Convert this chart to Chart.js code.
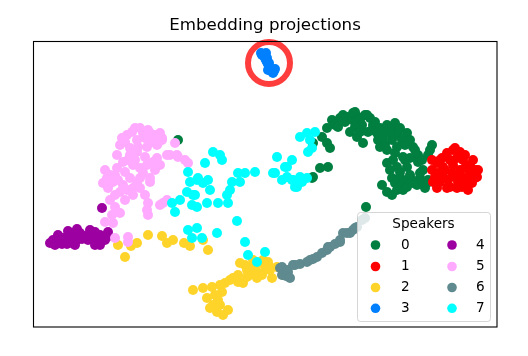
<!DOCTYPE html>
<html><head><meta charset="utf-8">
<script src="https://cdn.jsdelivr.net/npm/chart.js@4/dist/chart.umd.min.js"></script>
<style>html,body{margin:0;padding:0;background:#fff}#wrap{width:528px;height:356px}</style>
</head><body><div id="wrap"><canvas id="c" width="528" height="356"></canvas></div>
<script>
const chartTitle = 'Embedding projections';
const legendTitle = 'Speakers';
const speakers = ['0','1','2','3','4','5','6','7'];
const colors = ['#007f40','#ff0000','#ffd42a','#0080ff','#9c00a0','#ffaaff','#5f8a8f','#00ffff'];

const speaker0 = [[178,140],[312,178],[320,168],[328,167],[313,177],[313,143],[322,137],[327,143],[330,148],[327,128],[332,120],[335,125],[338,127],[340,118],[343,115],[345,122],[348,117],[352,120],[353,113],[358,117],[355,112],[360,120],[365,115],[370,118],[367,115],[362,125],[355,127],[350,132],[357,137],[360,132],[363,143],[368,132],[372,130],[373,125],[375,122],[377,133],[378,140],[380,128],[385,130],[387,125],[392,128],[395,123],[398,135],[400,128],[390,133],[383,138],[380,147],[385,145],[387,150],[392,140],[397,147],[402,140],[405,145],[407,133],[410,140],[413,147],[415,150],[403,157],[405,160],[395,153],[393,160],[387,163],[390,170],[397,167],[400,172],[407,167],[410,175],[392,178],[400,177],[407,180],[395,183],[382,185],[387,192],[392,195],[397,190],[402,185],[403,190],[413,183],[417,185],[420,178],[425,188],[427,183],[428,155],[432,145],[430,150],[418,155],[410,158],[418,162],[422,160],[423,170],[420,173],[415,182],[423,182],[428,180],[407,187],[412,180],[366,207]];
const speaker1 = [[432,160],[437,163],[440,160],[447,153],[450,160],[453,150],[455,148],[457,158],[460,152],[465,155],[463,160],[473,160],[470,165],[475,170],[478,170],[477,177],[475,178],[468,178],[467,183],[472,183],[468,190],[462,187],[457,188],[450,187],[447,188],[437,188],[433,182],[440,182],[435,177],[443,177],[452,173],[455,177],[460,170],[443,167],[445,170],[453,165],[462,177],[470,173],[438,173],[448,180],[432,170],[442,158],[465,168],[458,182]];
const speaker2 = [[104,236],[118,245],[125,257],[131,246],[137,243],[148,235],[162,236],[167,243],[173,240],[184,243],[190,246],[203,240],[208,250],[193,290],[203,288],[212,287],[220,285],[225,283],[215,295],[222,292],[207,298],[218,300],[213,305],[220,305],[210,308],[217,312],[228,310],[223,315],[230,280],[233,278],[238,275],[240,263],[245,265],[247,270],[250,267],[253,260],[255,270],[260,263],[263,260],[268,262],[262,275],[265,270],[257,278],[243,283],[238,282],[250,275],[258,273],[247,277],[270,267],[277,267],[270,270],[272,278],[283,275]];
const speaker3 = [[261,53],[262,55],[263,54],[266,53],[264,56],[265,58],[267,58],[266,60],[267,62],[268,64],[269,63],[269,66],[270,68],[268,70],[272,70],[271,71],[273,73],[274,71],[275,69]];
const speaker4 = [[50,243],[53,240],[55,245],[57,238],[58,235],[60,241],[62,244],[63,238],[66,240],[67,244],[68,231],[70,236],[72,243],[73,233],[75,245],[77,229],[77,240],[80,233],[82,239],[85,236],[88,240],[90,230],[92,234],[95,232],[95,245],[97,240],[100,235],[100,245],[105,240],[107,237],[108,232],[102,208]];
const speaker5 = [[120,145],[122,138],[125,142],[127,135],[132,132],[135,128],[140,128],[143,133],[148,130],[150,133],[155,135],[160,133],[162,138],[137,140],[145,138],[147,147],[152,142],[158,143],[130,148],[138,147],[162,140],[157,145],[175,143],[117,155],[105,170],[103,183],[108,188],[110,175],[107,178],[115,175],[117,168],[118,180],[123,162],[125,172],[128,160],[130,155],[137,152],[135,160],[133,165],[140,168],[143,173],[145,157],[147,165],[153,162],[155,170],[160,165],[157,158],[113,182],[123,185],[127,190],[130,178],[133,188],[137,183],[140,178],[150,178],[115,195],[120,192],[125,200],[133,195],[140,188],[145,195],[150,182],[167,155],[170,155],[177,155],[178,157],[185,160],[188,163],[110,200],[115,207],[112,215],[120,213],[105,222],[113,223],[115,238],[128,237],[128,242],[147,210],[148,215],[148,203],[160,205],[163,203],[167,200]];
const speaker6 = [[280,268],[282,267],[282,275],[286,276],[287,270],[288,272],[290,278],[293,265],[295,265],[300,264],[307,262],[310,260],[313,259],[317,257],[322,253],[327,250],[328,247],[330,247],[335,244],[340,242],[340,240],[343,233],[347,233],[350,233],[353,230],[355,228],[357,227],[362,220],[365,218]];
const speaker7 = [[213,152],[220,155],[222,160],[205,163],[188,172],[190,182],[197,180],[198,178],[203,183],[208,180],[210,190],[187,192],[193,195],[195,195],[180,200],[172,203],[192,205],[197,207],[207,203],[218,203],[228,203],[227,195],[230,190],[232,182],[238,173],[245,173],[240,182],[255,172],[175,212],[188,230],[197,228],[192,238],[202,238],[217,233],[237,221],[245,242],[248,255],[257,262],[265,252],[277,157],[292,160],[287,167],[285,167],[275,173],[273,173],[282,180],[287,177],[292,180],[293,180],[297,187],[295,187],[300,177],[302,182],[307,178],[300,137],[307,133],[308,152],[315,132],[310,140],[312,148]];
const highlight = [[269,63]];

const series = [speaker0,speaker1,speaker2,speaker3,speaker4,speaker5,speaker6,speaker7];
const toXY = arr => arr.map(p => ({x:p[0], y:p[1]}));

const datasets = series.map((s,i) => ({
  label: speakers[i],
  data: toXY(s),
  backgroundColor: colors[i],
  borderWidth: 0,
  pointRadius: 5,
  pointHoverRadius: 5,
  order: 8 - i,
  clip: false
}));
datasets.push({
  label: 'highlight',
  data: toXY(highlight),
  backgroundColor: 'rgba(0,0,0,0)',
  borderColor: 'rgba(255,0,0,0.76)',
  borderWidth: 6,
  pointRadius: 21,
  pointHoverRadius: 21,
  order: -1,
  clip: false
});

const FONT = '"DejaVu Sans", "Liberation Sans", sans-serif';

const framePlugin = {
  id: 'frame',
  afterDatasetsDraw(chart) {
    const a = chart.chartArea, ctx = chart.ctx;
    ctx.save();
    ctx.strokeStyle = '#000';
    ctx.lineWidth = 1.1;
    ctx.strokeRect(Math.round(a.left)+0.5, Math.round(a.top)+0.5, Math.round(a.right-a.left)-1+0.5, Math.round(a.bottom-a.top)-0.5);
    ctx.restore();
  }
};

const legendPlugin = {
  id: 'mplLegend',
  afterDraw(chart) {
    const ctx = chart.ctx;
    const x0 = 357.5, y0 = 212.5, x1 = 490.5, y1 = 321.5, r = 3;
    ctx.save();
    ctx.beginPath();
    ctx.moveTo(x0+r, y0);
    ctx.lineTo(x1-r, y0); ctx.quadraticCurveTo(x1, y0, x1, y0+r);
    ctx.lineTo(x1, y1-r); ctx.quadraticCurveTo(x1, y1, x1-r, y1);
    ctx.lineTo(x0+r, y1); ctx.quadraticCurveTo(x0, y1, x0, y1-r);
    ctx.lineTo(x0, y0+r); ctx.quadraticCurveTo(x0, y0, x0+r, y0);
    ctx.closePath();
    ctx.fillStyle = 'rgba(255,255,255,0.8)';
    ctx.fill();
    ctx.strokeStyle = 'rgba(204,204,204,0.8)';
    ctx.lineWidth = 1;
    ctx.stroke();

    ctx.fillStyle = '#000';
    ctx.font = '13.6px ' + FONT;
    ctx.textAlign = 'center';
    ctx.textBaseline = 'middle';
    ctx.fillText(legendTitle, 423.5, 224.5);

    const rows = [245, 266.5, 287.5, 308.3];
    const markX = [375.5, 452];
    const textX = [401, 476];
    ctx.textAlign = 'left';
    speakers.forEach((lab, i) => {
      const col = Math.floor(i / 4), row = i % 4;
      ctx.beginPath();
      ctx.arc(markX[col], rows[row], 4.8, 0, Math.PI*2);
      ctx.fillStyle = colors[i];
      ctx.fill();
      ctx.fillStyle = '#000';
      ctx.fillText(lab, textX[col], rows[row]);
    });
    ctx.restore();
  }
};

new Chart(document.getElementById('c'), {
  type: 'scatter',
  data: { datasets },
  options: {
    responsive: false,
    devicePixelRatio: 1,
    animation: false,
    events: [],
    layout: { padding: { left: 33, right: 31, top: 0, bottom: 29 } },
    scales: {
      x: { type: 'linear', min: 33, max: 497, display: false },
      y: { type: 'linear', min: 41, max: 327, reverse: true, display: false }
    },
    plugins: {
      legend: { display: false },
      tooltip: { enabled: false },
      title: {
        display: true,
        text: chartTitle,
        color: '#000',
        font: { family: FONT, size: 16.67, weight: 'normal' },
        padding: { top: 16, bottom: 5 }
      }
    }
  },
  plugins: [framePlugin, legendPlugin]
});
</script>
</body></html>
